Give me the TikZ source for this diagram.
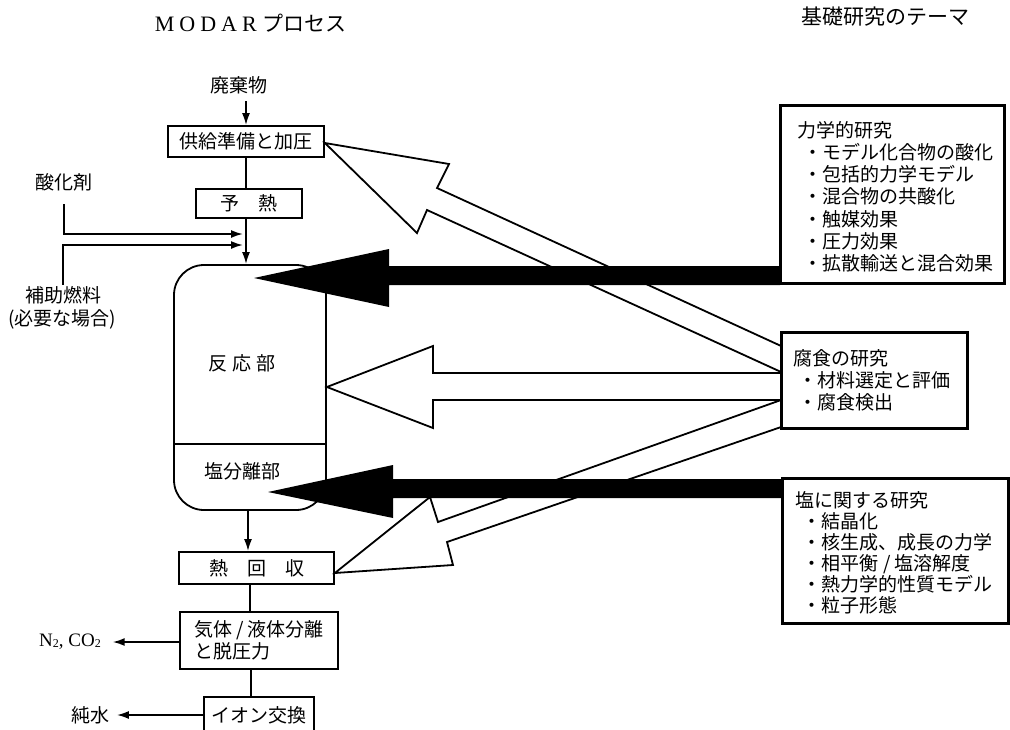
\documentclass[tikz,border=0pt]{standalone}
\usepackage{fontspec}
\setmainfont{Liberation Serif}
\newfontfamily\jp{Noto Sans CJK JP}
\usetikzlibrary{arrows.meta}
\begin{document}
\begin{tikzpicture}[x=1pt,y=-1pt, line width=1.8pt,
  jt/.style={font=\jp\fontsize{19}{22}\selectfont, inner sep=0pt, text height=16.7pt, text depth=2.3pt},
  pbox/.style={draw, line width=1.8pt, inner sep=0pt, jt},
  arr/.style={-{Latex[length=12pt,width=8pt]}},
  hollowarrow/.style={draw, fill=white, line width=1.8pt, line join=miter},
  blackarrow/.style={fill=black, draw=none}]
\useasboundingbox (0,0) rectangle (1010,729);
\clip (0,0) rectangle (1010,729);

% titles
\node[anchor=base west, inner sep=0pt] (t1) at (154,31.5) {\fontsize{22}{22}\selectfont M\hspace{5pt}O\hspace{5pt}D\hspace{5pt}A\hspace{5pt}R\hspace{6pt}{\jp\fontsize{21}{21}\selectfont プロセス}};
\node[anchor=base west, inner sep=0pt, font=\jp\fontsize{21}{21}\selectfont] (t2) at (801,24) {基礎研究のテーマ};

% process column
\node[jt] (waste) at (239,85) {廃棄物};
\node[pbox, minimum width=156, minimum height=31] (feed) at (246,141.5) {供給準備と加圧};
\node[pbox, minimum width=106, minimum height=29] (pre) at (249,203.5) {予　熱};
\node[jt] (ox) at (64,182) {酸化剤};
\node[jt] (fuel) at (63,295) {補助燃料};
\node[jt] (need) at (62,318) {(必要な場合)};
\node[draw, rounded corners=30pt, minimum width=152, minimum height=245, inner sep=0pt] (reac) at (250,387.5) {};
\draw (reac.west |- 0,444) -- (reac.east |- 0,444);
\node[jt] (rx) at (242,363) {反\hspace{5pt}応\hspace{5pt}部};
\node[jt] (salt) at (242,471) {塩分離部};
\node[pbox, minimum width=155, minimum height=32] (hr) at (256.5,568) {熱　回　収};
\node[draw, minimum width=158, minimum height=57, align=left, font=\jp\fontsize{19}{22}\selectfont, inner sep=0pt] (gl) at (259,640.5) {気体 / 液体分離\\と脱圧力};
\node[pbox, minimum width=110, minimum height=36] (ion) at (259,715) {イオン交換};
\node[font=\fontsize{19}{19}\selectfont, inner sep=0pt] (n2) at (70,642) {N\raisebox{-1pt}{\fontsize{12}{12}\selectfont 2}, CO\raisebox{-1pt}{\fontsize{12}{12}\selectfont 2}};
\node[jt] (water) at (90,715) {純水};

% connectors
\draw[arr] ([yshift=-6pt]waste.south -| feed.north) -- (feed.north);
\draw (feed.south) -- (feed.south |- pre.north);
\draw[arr] (pre.south -| feed.south) -- (reac.north -| feed.south);
\coordinate (in1) at (243,234);
\coordinate (in2) at (243,245);
\draw[arr] ([yshift=-12pt]ox.south) -- (ox.south |- in1) -- (in1);
\draw[arr] (fuel.north) -- (fuel.north |- in2) -- (in2);
\draw[arr] (reac.south -| 248,0) -- (hr.north -| 248,0);
\draw (hr.south -| 250,0) -- (gl.north -| 250,0);
\draw (gl.south -| 251,0) -- (ion.north -| 251,0);
\draw[arr] (gl.west |- 0,642) -- ([xshift=11pt]n2.east |- 0,642);
\draw[arr] (ion.west) -- ([xshift=7pt]water.east);

% research boxes (geometry)
\node[draw, minimum width=223, minimum height=177, inner sep=0pt] (rb1) at (892.5,194.5) {};
\node[draw, minimum width=185, minimum height=95, inner sep=0pt] (rb2) at (874.5,380.5) {};
\node[draw, minimum width=225, minimum height=144, inner sep=0pt] (rb3) at (895.5,551) {};

% hollow arrows
\path[hollowarrow] (feed.east |- 0,143) -- (449,164) -- (437,188) -- (rb2.west |- 0,346) -- (rb2.west |- 0,372) -- (427,210) -- (417,233) -- cycle;
\path[hollowarrow] (reac.east |- 0,387) -- (433,346) -- (433,373) -- (rb2.west |- 0,373) -- (rb2.west |- 0,400) -- (433,400) -- (433,428) -- cycle;
\path[hollowarrow] (hr.east |- 0,573) -- (430,497) -- (438,522) -- (rb2.west |- 0,400) -- (rb2.west |- 0,427) -- (447,542) -- (453,565) -- cycle;

% black arrows
\path[blackarrow] (254,278) -- (389,249) -- (389,266) -- (rb1.west |- 0,266) -- (rb1.west |- 0,285) -- (389,285) -- (389,307) -- cycle;
\path[blackarrow] (268,492) -- (393,465) -- (393,479) -- (rb3.west |- 0,479) -- (rb3.west |- 0,498) -- (393,498) -- (393,518) -- cycle;

% redraw box borders on top
\draw (rb1.north west) rectangle (rb1.south east);
\draw (rb2.north west) rectangle (rb2.south east);
\draw (rb3.north west) rectangle (rb3.south east);

% research texts
\node[jt, anchor=west] (r1h) at (797,130) {力学的研究};
\node[jt, anchor=west] (r1a) at (803,152.2) {・モデル化合物の酸化};
\node[jt, anchor=west] (r1b) at (803,174.4) {・包括的力学モデル};
\node[jt, anchor=west] (r1c) at (803,196.6) {・混合物の共酸化};
\node[jt, anchor=west] (r1d) at (803,218.8) {・触媒効果};
\node[jt, anchor=west] (r1e) at (803,241) {・圧力効果};
\node[jt, anchor=west] (r1f) at (803,263.2) {・拡散輸送と混合効果};

\node[jt, anchor=west] (r2h) at (793,358) {腐食の研究};
\node[jt, anchor=west] (r2a) at (798,380) {・材料選定と評価};
\node[jt, anchor=west] (r2b) at (798,402) {・腐食検出};

\node[jt, anchor=west] (r3h) at (795,500) {塩に関する研究};
\node[jt, anchor=west] (r3a) at (802,521) {・結晶化};
\node[jt, anchor=west] (r3b) at (802,542) {・核生成、成長の力学};
\node[jt, anchor=west] (r3c) at (802,563) {・相平衡 / 塩溶解度};
\node[jt, anchor=west] (r3d) at (802,584) {・熱力学的性質モデル};
\node[jt, anchor=west] (r3e) at (802,605) {・粒子形態};
\end{tikzpicture}
\end{document}
